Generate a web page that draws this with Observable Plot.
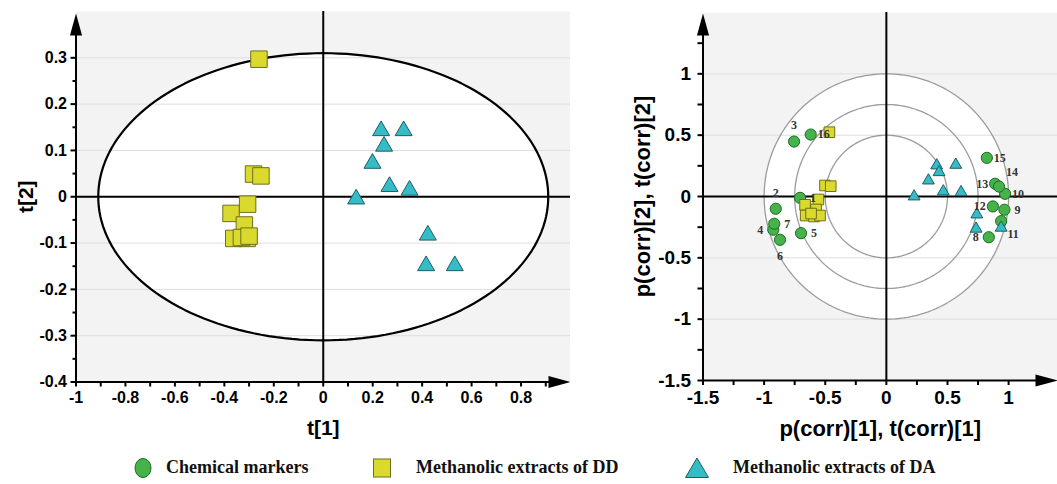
<!DOCTYPE html>
<html><head><meta charset="utf-8">
<script src="https://cdn.jsdelivr.net/npm/d3@7"></script>
<script src="https://cdn.jsdelivr.net/npm/@observablehq/plot@0.6"></script>
<style>
body{margin:0;background:#fff;}
#wrap{width:1057px;height:484px;overflow:hidden;position:relative;}
#plots{display:flex;height:445px;}
#legend{position:relative;height:39px;font-family:"Liberation Serif","Times New Roman",serif;font-weight:bold;font-size:18px;color:#111;}
#legend .item{position:absolute;top:3px;height:39px;display:flex;align-items:center;}
</style>
</head><body>
<div id="wrap"><div id="plots"></div><div id="legend"></div></div>
<script>
// ---------- Data ----------
const seriesNames = ["Chemical markers", "Methanolic extracts of DD", "Methanolic extracts of DA"];

// Score plot (t[1], t[2])
const ddT1 = [-0.26, -0.282, -0.252, -0.306, -0.373, -0.319, -0.362, -0.308, -0.331, -0.30];
const ddT2 = [0.297, 0.049, 0.045, -0.016, -0.036, -0.061, -0.09, -0.09, -0.088, -0.085];
const daT1 = [0.234, 0.325, 0.246, 0.199, 0.268, 0.349, 0.133, 0.423, 0.416, 0.532];
const daT2 = [0.1425, 0.1425, 0.109, 0.072, 0.022, 0.014, -0.005, -0.083, -0.149, -0.149];

// Hotelling ellipse semi-axes
const ellipseRx = 0.91;
const ellipseRy = 0.31;

// Correlation plot: chemical markers 1..16
const markerIds = [1, 2, 3, 4, 5, 6, 7, 8, 9, 10, 11, 12, 13, 14, 15, 16];
const markerP1 = [-0.706, -0.905, -0.755, -0.925, -0.698, -0.87, -0.917, 0.838, 0.966, 0.971, 0.939, 0.871, 0.89, 0.922, 0.822, -0.619];
const markerP2 = [-0.011, -0.1, 0.448, -0.271, -0.299, -0.353, -0.222, -0.332, -0.108, 0.022, -0.201, -0.081, 0.104, 0.081, 0.315, 0.505];
const markerLabelSide = ["right", "above", "above", "left", "right", "below", "right", "left", "right", "right", "belowRight", "left", "left", "aboveRight", "right", "right"];

// Correlation plot: samples
const ddC1 = [-0.466, -0.502, -0.455, -0.556, -0.665, -0.575, -0.66, -0.592, -0.543, -0.616];
const ddC2 = [0.524, 0.09, 0.084, -0.024, -0.068, -0.106, -0.155, -0.163, -0.155, -0.139];
const daC1 = [0.412, 0.431, 0.568, 0.344, 0.466, 0.611, 0.227, 0.74, 0.734, 0.939];
const daC2 = [0.253, 0.198, 0.258, 0.13, 0.041, 0.035, 0.0, -0.147, -0.263, -0.255];

const circleRadii = [1, 0.75, 0.5];

// Ticks
const leftXMajor = [-1, -0.8, -0.6, -0.4, -0.2, 0, 0.2, 0.4, 0.6, 0.8];
const leftXMinor = [-0.9, -0.7, -0.5, -0.3, -0.1, 0.1, 0.3, 0.5, 0.7, 0.9];
const leftYMajor = [-0.4, -0.3, -0.2, -0.1, 0, 0.1, 0.2, 0.3];
const leftYMinor = [-0.35, -0.25, -0.15, -0.05, 0.05, 0.15, 0.25];
const leftGrid = [-0.3, -0.2, -0.1, 0.1, 0.2, 0.3];
const rightXMajor = [-1.5, -1, -0.5, 0, 0.5, 1];
const rightXMinor = [-1.25, -0.75, -0.25, 0.25, 0.75, 1.25];
const rightYMajor = [-1.5, -1, -0.5, 0, 0.5, 1];
const rightYMinor = [-1.25, -0.75, -0.25, 0.25, 0.75, 1.25];
const rightGrid = [-1, -0.5, 0.5, 1];

// ---------- Styles ----------
const FONT = "'Liberation Sans', Arial, sans-serif";
const BG = "#f3f3f3";
const GRID = "#dedede";
const COL = {
  circle: {fill: "#45b24a", stroke: "#1f6a25"},
  square: {fill: "#dada2e", stroke: "#6e6e1e"},
  tri: {fill: "#36bcc6", stroke: "#1c5e66"}
};
const fmt = d => String(d);

// Elongated arrowhead symbol (points up)
const arrowHead = {
  draw(ctx, size) {
    const r = Math.sqrt(size / Math.PI);
    ctx.moveTo(0, -r);
    ctx.lineTo(0.55 * r, r);
    ctx.lineTo(-0.55 * r, r);
    ctx.closePath();
  }
};

const ellipsePts = d3.range(0, 361, 2).map(a => ({
  x: ellipseRx * Math.cos(a * Math.PI / 180),
  y: ellipseRy * Math.sin(a * Math.PI / 180)
}));
const circlePts = circleRadii.flatMap(r => d3.range(0, 361, 2).map(a => ({
  r, x: r * Math.cos(a * Math.PI / 180), y: r * Math.sin(a * Math.PI / 180)
})));

const ddScore = ddT1.map((x, i) => ({x, y: ddT2[i]}));
const daScore = daT1.map((x, i) => ({x, y: daT2[i]}));
const markers = markerIds.map((id, i) => ({id, x: markerP1[i], y: markerP2[i], side: markerLabelSide[i]}));
const ddCorr = ddC1.map((x, i) => ({x, y: ddC2[i]}));
const daCorr = daC1.map((x, i) => ({x, y: daC2[i]}));

const labelOffsets = {
  right: [13, 0], left: [-13, 0], above: [0, -16], below: [0, 16],
  belowRight: [12, 13], aboveRight: [13, -14]
};
const labelMarks = Object.entries(labelOffsets).map(([side, [dx, dy]]) =>
  Plot.text(markers.filter(d => d.side === side), {
    x: "x", y: "y", text: "id", dx, dy,
    fontFamily: "'Liberation Serif', 'Times New Roman', serif",
    fontSize: 12, fontWeight: "bold", fill: "#333"
  })
);

const titleOpts = {textAnchor: "middle", lineAnchor: "middle", fontWeight: "bold"};

// ---------- Left: score plot ----------
const left = Plot.plot({
  width: 570, height: 445,
  marginLeft: 75.5, marginRight: 0, marginTop: 11, marginBottom: 63.5,
  x: {domain: [-1, 1]},
  y: {domain: [-0.4, 0.4]},
  style: {fontFamily: FONT, background: "white", color: "black", overflow: "visible"},
  marks: [
    Plot.frame({fill: BG, stroke: "none"}),
    Plot.line(ellipsePts, {x: "x", y: "y", fill: "white", stroke: "none"}),
    Plot.ruleY(leftGrid, {stroke: GRID, strokeWidth: 1}),
    Plot.line(ellipsePts, {x: "x", y: "y", stroke: "black", strokeWidth: 2.2}),
    Plot.ruleX([0], {stroke: "black", strokeWidth: 2}),
    Plot.ruleY([0], {stroke: "black", strokeWidth: 2}),
    Plot.ruleX([-1], {y1: -0.4, y2: 0.37, stroke: "black", strokeWidth: 2}),
    Plot.ruleY([-0.4], {x1: -1, x2: 0.96, stroke: "black", strokeWidth: 2}),
    Plot.dot([0], {x: -1, y: 0.4, dy: 13, symbol: arrowHead, r: 11, fill: "black", stroke: "none"}),
    Plot.dot([0], {x: 1, y: -0.4, dx: -11, rotate: 90, symbol: arrowHead, r: 11, fill: "black", stroke: "none"}),
    Plot.axisX(leftXMinor, {tickSize: 5, tickFormat: () => "", strokeWidth: 2, label: null}),
    Plot.axisX(leftXMajor, {tickSize: 5, tickPadding: 5, tickFormat: fmt, fontSize: 16, fontWeight: "bold", strokeWidth: 2, label: null}),
    Plot.axisY(leftYMinor, {tickSize: 3, tickFormat: () => "", strokeWidth: 2, label: null}),
    Plot.axisY(leftYMajor, {tickSize: 5, tickPadding: 4, tickFormat: fmt, fontSize: 16, fontWeight: "bold", strokeWidth: 2, label: null}),
    Plot.text(["t[1]"], {...titleOpts, frameAnchor: "bottom", dy: 46, fontSize: 21}),
    Plot.text(["t[2]"], {...titleOpts, frameAnchor: "left", dx: -50, rotate: -90, fontSize: 21}),
    Plot.dot(ddScore, {x: "x", y: "y", symbol: "square", r: 9.3, fill: COL.square.fill, stroke: COL.square.stroke, strokeWidth: 1}),
    Plot.dot(daScore, {x: "x", y: "y", symbol: "triangle", r: 6.3, fill: COL.tri.fill, stroke: COL.tri.stroke, strokeWidth: 1})
  ]
});

// ---------- Right: correlation plot ----------
const right = Plot.plot({
  width: 487, height: 445,
  marginLeft: 132.5, marginRight: 0, marginTop: 12, marginBottom: 65,
  x: {domain: [-1.5, 1.4]},
  y: {domain: [-1.5, 1.5]},
  style: {fontFamily: FONT, background: "white", color: "black", overflow: "visible"},
  marks: [
    Plot.frame({fill: BG, stroke: "none"}),
    Plot.line(circlePts.filter(d => d.r === 1), {x: "x", y: "y", fill: "white", stroke: "none"}),
    Plot.ruleY(rightGrid, {stroke: GRID, strokeWidth: 1}),
    Plot.line(circlePts, {x: "x", y: "y", z: "r", stroke: "#9c9c9c", strokeWidth: 1.3}),
    Plot.ruleX([0], {stroke: "black", strokeWidth: 2}),
    Plot.ruleY([0], {stroke: "black", strokeWidth: 2}),
    Plot.ruleX([-1.5], {y1: -1.5, y2: 1.38, stroke: "black", strokeWidth: 2}),
    Plot.ruleY([-1.5], {x1: -1.5, x2: 1.35, stroke: "black", strokeWidth: 2}),
    Plot.dot([0], {x: -1.5, y: 1.5, dy: 12, symbol: arrowHead, r: 11, fill: "black", stroke: "none"}),
    Plot.dot([0], {x: 1.4, y: -1.5, dx: -11, rotate: 90, symbol: arrowHead, r: 11, fill: "black", stroke: "none"}),
    Plot.axisX(rightXMinor, {tickSize: 5, tickFormat: () => "", strokeWidth: 2, label: null}),
    Plot.axisX(rightXMajor, {tickSize: 5, tickPadding: 5, tickFormat: fmt, fontSize: 19, fontWeight: "bold", strokeWidth: 2, label: null}),
    Plot.axisY(rightYMinor, {tickSize: 5, tickFormat: () => "", strokeWidth: 2, label: null}),
    Plot.axisY(rightYMajor, {tickSize: 5, tickPadding: 7, tickFormat: fmt, fontSize: 19, fontWeight: "bold", strokeWidth: 2, label: null}),
    Plot.text(["p(corr)[1], t(corr)[1]"], {...titleOpts, frameAnchor: "bottom", dy: 48, fontSize: 22}),
    Plot.text(["p(corr)[2], t(corr)[2]"], {...titleOpts, frameAnchor: "left", dx: -60, rotate: -90, fontSize: 22}),
    Plot.dot(markers, {x: "x", y: "y", r: 5.6, fill: COL.circle.fill, stroke: COL.circle.stroke, strokeWidth: 1}),
    Plot.dot(ddCorr, {x: "x", y: "y", symbol: "square", r: 6, fill: COL.square.fill, stroke: COL.square.stroke, strokeWidth: 1}),
    Plot.dot(daCorr, {x: "x", y: "y", symbol: "triangle", r: 4.4, fill: COL.tri.fill, stroke: COL.tri.stroke, strokeWidth: 1}),
    ...labelMarks
  ]
});

document.getElementById("plots").append(left, right);

// ---------- Legend ----------
const legendIcons = [
  `<svg width="20" height="24"><ellipse cx="10" cy="12" rx="8" ry="9.5" fill="${COL.circle.fill}" stroke="${COL.circle.stroke}"/></svg>`,
  `<svg width="20" height="22"><rect x="1.5" y="2" width="17" height="18" fill="${COL.square.fill}" stroke="${COL.square.stroke}"/></svg>`,
  `<svg width="26" height="22"><path d="M13,1 L24.5,20.5 L1.5,20.5 Z" fill="${COL.tri.fill}" stroke="${COL.tri.stroke}"/></svg>`
];
const iconLeft = [133, 372, 684];
const textLeft = [166, 416, 733];
const legend = document.getElementById("legend");
seriesNames.forEach((name, i) => {
  const ic = document.createElement("div");
  ic.className = "item"; ic.style.left = iconLeft[i] + "px"; ic.innerHTML = legendIcons[i];
  const tx = document.createElement("div");
  tx.className = "item"; tx.style.left = textLeft[i] + "px"; tx.textContent = name;
  legend.append(ic, tx);
});
</script>
</body></html>
